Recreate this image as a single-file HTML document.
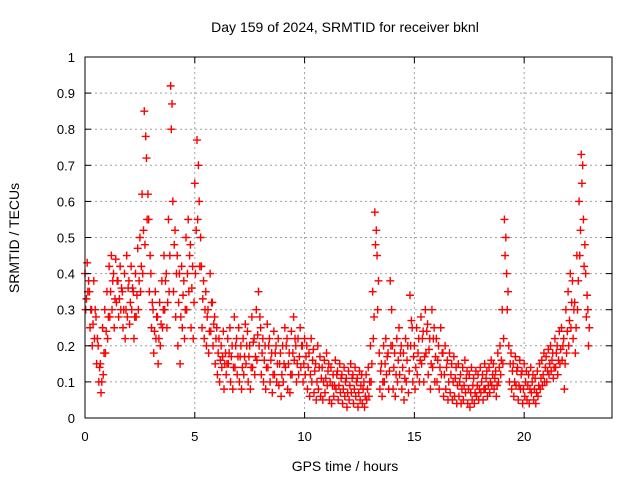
<!DOCTYPE html>
<html><head><meta charset="utf-8"><style>
html,body{margin:0;padding:0;background:#fff}
svg{display:block;font-family:"Liberation Sans",sans-serif}
</style></head><body>
<svg id="chart" width="640" height="480" viewBox="0 0 640 480"></svg>
<script>
const seriesA = [.40,.43,.35,.30,.38,.28,.20,.15,.25,.30,.35,.42,.45,.40,.44,.38,.42,.35,.40,.45,.38,.42,.35,.40,.47,.50,.62,.85,.72,.55,.40,.30,.35,.28,.32,.38,.45,.40,.55,.92,.60,.52,.45,.40,.42,.38,.50,.55,.48,.42,.65,.77,.60,.42,.38,.35,.30,.40,.32,.28,.25,.22,.20,.24,.18,.22,.25,.20,.28,.22,.25,.20,.22,.26,.24,.20,.28,.22,.30,.35,.25,.22,.20,.26,.22,.18,.24,.20,.22,.18,.20,.25,.22,.18,.24,.28,.20,.22,.25,.20,.22,.20,.18,.22,.19,.15,.20,.17,.14,.16,.18,.15,.14,.12,.16,.13,.15,.12,.14,.11,.13,.15,.12,.14,.11,.13,.12,.10,.12,.14,.20,.35,.57,.45,.18,.15,.20,.22,.18,.38,.20,.18,.22,.25,.20,.18,.22,.20,.34,.25,.20,.25,.22,.28,.24,.30,.26,.22,.30,.25,.22,.20,.25,.18,.20,.16,.18,.15,.17,.14,.15,.12,.14,.16,.13,.12,.14,.11,.13,.12,.14,.12,.15,.13,.14,.16,.15,.13,.18,.20,.30,.55,.40,.20,.18,.15,.17,.14,.16,.13,.15,.13,.12,.14,.12,.11,.13,.15,.16,.18,.17,.19,.20,.18,.22,.20,.24,.25,.22,.30,.35,.40,.38,.32,.45,.60,.73,.55,.40,.30];
const seriesB = [.30,.35,.25,.20,.22,.15,.10,.07,.12,.18,.22,.28,.30,.25,.32,.28,.30,.25,.22,.28,.26,.30,.22,.28,.30,.35,.40,.48,.55,.35,.25,.18,.22,.15,.20,.25,.30,.25,.35,.80,.35,.28,.20,.15,.25,.22,.30,.35,.25,.22,.40,.55,.42,.25,.22,.20,.18,.24,.20,.15,.12,.10,.14,.08,.12,.15,.10,.08,.14,.12,.10,.08,.12,.15,.10,.08,.14,.12,.16,.20,.12,.10,.08,.14,.10,.07,.12,.10,.09,.06,.10,.14,.08,.07,.12,.16,.10,.12,.14,.10,.12,.08,.06,.10,.07,.05,.08,.06,.05,.07,.09,.05,.04,.06,.08,.05,.07,.04,.06,.03,.05,.07,.04,.06,.03,.05,.04,.03,.05,.06,.10,.22,.48,.30,.08,.06,.10,.12,.08,.20,.08,.06,.10,.12,.08,.05,.10,.07,.20,.10,.08,.12,.10,.15,.10,.18,.12,.08,.14,.10,.10,.08,.12,.06,.08,.05,.07,.05,.06,.04,.06,.04,.05,.07,.04,.03,.05,.04,.06,.05,.07,.05,.08,.06,.07,.09,.08,.06,.10,.12,.15,.45,.30,.10,.08,.06,.09,.05,.08,.04,.06,.05,.04,.07,.05,.04,.06,.08,.09,.10,.10,.12,.13,.11,.14,.12,.15,.16,.08,.18,.20,.25,.22,.18,.30,.45,.65,.42,.28,.20];
const seriesC = [.33,.38,.30,.26,.30,.22,.14,.10,.18,.24,.28,.35,.38,.33,.38,.33,.36,.30,.30,.36,.32,.36,.28,.34,.38,.42,.52,.78,.62,.45,.32,.24,.28,.22,.26,.30,.38,.32,.45,.87,.48,.40,.32,.28,.34,.30,.40,.45,.36,.32,.52,.70,.50,.33,.30,.28,.24,.32,.26,.22,.18,.16,.17,.15,.15,.18,.17,.14,.20,.17,.17,.14,.17,.20,.17,.14,.21,.17,.23,.28,.18,.16,.14,.20,.16,.12,.18,.15,.15,.12,.15,.20,.15,.12,.18,.22,.15,.17,.20,.15,.17,.14,.12,.16,.13,.10,.14,.11,.10,.11,.13,.10,.09,.09,.12,.09,.11,.08,.10,.07,.09,.11,.08,.10,.07,.09,.08,.06,.08,.10,.15,.28,.52,.38,.13,.10,.15,.17,.13,.30,.14,.12,.16,.18,.14,.11,.16,.13,.27,.17,.14,.18,.16,.22,.17,.24,.19,.15,.22,.17,.16,.14,.18,.12,.14,.10,.12,.10,.11,.09,.10,.08,.09,.11,.08,.07,.09,.07,.09,.08,.10,.08,.11,.09,.10,.12,.11,.09,.14,.16,.22,.50,.35,.15,.13,.10,.13,.09,.12,.08,.10,.09,.08,.10,.08,.07,.09,.11,.12,.14,.13,.15,.16,.14,.18,.16,.19,.20,.15,.24,.27,.32,.30,.25,.38,.52,.70,.48,.34,.25];
const xTicks = [0,5,10,15,20];
const yTicks = [0,0.1,0.2,0.3,0.4,0.5,0.6,0.7,0.8,0.9,1];
const yTickLabels = ["0","0.1","0.2","0.3","0.4","0.5","0.6","0.7","0.8","0.9","1"];
const startHour = 0, stepHour = 0.1;

const L=85,R=612,T=57,B=418,XMAX=24;
const sx=h=>L+(R-L)*h/XMAX;
const sy=v=>B-(B-T)*v;
const svg=document.getElementById('chart');
const NS='http://www.w3.org/2000/svg';
function mk(tag,attrs,parent){const e=document.createElementNS(NS,tag);for(const k in attrs)e.setAttribute(k,attrs[k]);(parent||svg).appendChild(e);return e;}

const grid=mk('g',{});


xTicks.forEach(t=>{if(t>0){const l=mk('line',{x1:sx(t),x2:sx(t),y1:T,y2:B,stroke:'#a0a0a0','stroke-dasharray':'2,3','stroke-width':1},grid);}});
yTicks.forEach(t=>{if(t>0&&t<1){const l=mk('line',{x1:L,x2:R,y1:sy(t),y2:sy(t),stroke:'#a0a0a0','stroke-dasharray':'2,3','stroke-width':1},grid);}});

function drawSeries(vals,offset,color,name){
  const g=mk('g',{stroke:color,'stroke-width':1.4});
  
  
  vals.forEach((v,i)=>{
    const x=sx(startHour+i*stepHour+offset),y=sy(v);
    const p=mk('path',{d:`M${x-4},${y}H${x+4}M${x},${y-4}V${y+4}`},g);
    
    
  });
}
drawSeries(seriesB,0.03,'#ff0000','series-low');
drawSeries(seriesC,0.065,'#ff0000','series-mid');
drawSeries(seriesA,0,'#ff0000','series-high');

const frame=mk('rect',{x:L,y:T,width:R-L,height:B-T,fill:'none',stroke:'#000','stroke-width':1});



xTicks.forEach(t=>{
  mk('line',{x1:sx(t),x2:sx(t),y1:B,y2:B-6,stroke:'#000'});
  mk('line',{x1:sx(t),x2:sx(t),y1:T,y2:T+6,stroke:'#000'});
  const tx=mk('text',{x:sx(t),y:B+23,'text-anchor':'middle','font-size':13,fill:'#000'});
  tx.textContent=t;
  
  
});
yTicks.forEach((t,i)=>{
  mk('line',{x1:L,x2:L+6,y1:sy(t),y2:sy(t),stroke:'#000'});
  mk('line',{x1:R,x2:R-6,y1:sy(t),y2:sy(t),stroke:'#000'});
  const tx=mk('text',{x:L-10,y:sy(t)+5,'text-anchor':'end','font-size':13,fill:'#000'});
  tx.textContent=yTickLabels[i];
  
  
});
</script>
<svg style="position:absolute;left:0;top:0" width="640" height="480">
<text x="345" y="32" text-anchor="middle" font-size="14" font-family="Liberation Sans, sans-serif">Day 159 of 2024, SRMTID for receiver bknl</text>
<text x="345" y="471" text-anchor="middle" font-size="14" font-family="Liberation Sans, sans-serif">GPS time / hours</text>
<text transform="translate(19,238) rotate(-90)" text-anchor="middle" font-size="14" font-family="Liberation Sans, sans-serif">SRMTID / TECUs</text>
</svg>
</body></html>
